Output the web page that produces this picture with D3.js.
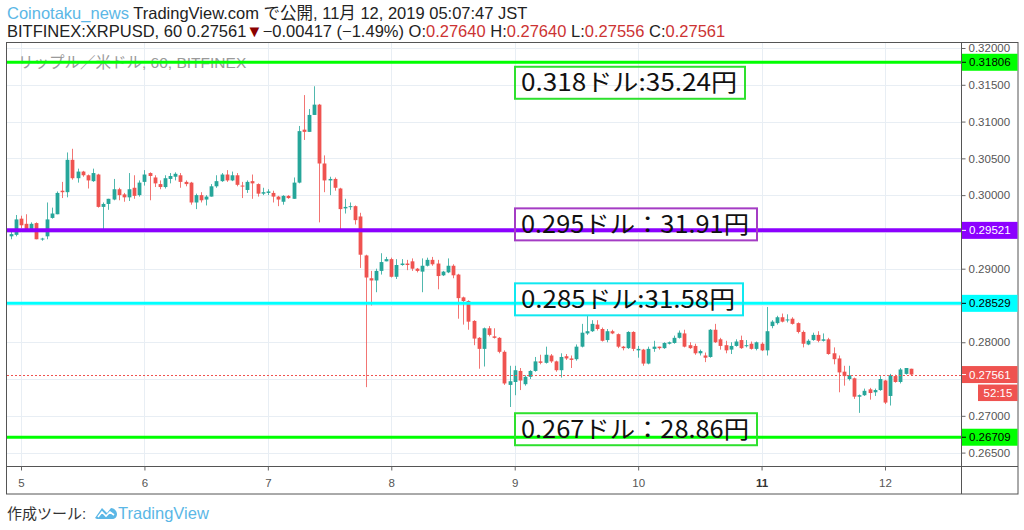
<!DOCTYPE html>
<html lang="ja">
<head>
<meta charset="UTF-8">
<title>BITFINEX:XRPUSD, 60</title>
<script src="https://d3js.org/d3.v7.min.js"></script>
<style>
  body { margin: 0; background: #fff; }
  svg { font-family: Arial, "Liberation Sans", "Noto Sans CJK JP", sans-serif; }
  .axis text { fill: #555; font-size: 11.5px; }
  .axis line { stroke: #666; }
  .axis path { display: none; }
</style>
</head>
<body>
<svg id="chart" width="1024" height="530"></svg>
<script>
// hourly candles, first one at 2019-11-04 22:00
const firstBar = Date.UTC(2019, 10, 4, 22);

const opens = [
  0.2944, 0.2946, 0.2968, 0.2961, 0.2954, 0.2962, 0.2940, 0.2944, 0.2969, 0.2974,
  0.3006, 0.3004, 0.3048, 0.3023, 0.3032, 0.3027, 0.3019, 0.3028, 0.2984, 0.2988,
  0.2994, 0.3008, 0.3001, 0.2997, 0.3010, 0.3000, 0.3018, 0.3030, 0.3024, 0.3015,
  0.3011, 0.3022, 0.3025, 0.3027, 0.3018, 0.3017, 0.2990, 0.3000, 0.2994, 0.2998,
  0.3012, 0.3019, 0.3028, 0.3020, 0.3027, 0.3013, 0.3007, 0.3019, 0.3015, 0.3002,
  0.3003, 0.3003, 0.2998, 0.2991, 0.2999, 0.2995, 0.3017, 0.3089, 0.3086, 0.3109,
  0.3123, 0.3043, 0.3020, 0.3022, 0.3009, 0.2982, 0.2984, 0.2985, 0.2971, 0.2918,
  0.2887, 0.2884, 0.2897, 0.2910, 0.2913, 0.2889, 0.2905, 0.2907, 0.2910, 0.2900,
  0.2896, 0.2904, 0.2912, 0.2907, 0.2891, 0.2895, 0.2904, 0.2892, 0.2861, 0.2856,
  0.2829, 0.2806, 0.2791, 0.2819, 0.2808, 0.2806, 0.2787, 0.2742, 0.2746, 0.2761,
  0.2743, 0.2753, 0.2761, 0.2774, 0.2772, 0.2782, 0.2774, 0.2762, 0.2781, 0.2778,
  0.2777, 0.2794, 0.2812, 0.2815, 0.2824, 0.2818, 0.2803, 0.2815, 0.2811, 0.2794,
  0.2792, 0.2814, 0.2789, 0.2790, 0.2771, 0.2791, 0.2794, 0.2792, 0.2798, 0.2799,
  0.2806, 0.2812, 0.2796, 0.2795, 0.2785, 0.2782, 0.2780, 0.2817, 0.2804, 0.2796,
  0.2790, 0.2795, 0.2803, 0.2795, 0.2798, 0.2791, 0.2798, 0.2789, 0.2822, 0.2826,
  0.2834, 0.2830, 0.2832, 0.2826, 0.2814, 0.2797, 0.2803, 0.2810, 0.2802, 0.2804,
  0.2785, 0.2778, 0.2760, 0.2750, 0.2751, 0.2726, 0.2728, 0.2736, 0.2732, 0.2735,
  0.2748, 0.2727, 0.2754, 0.2746, 0.2757, 0.27640
];
const highs = [
  0.2951, 0.2973, 0.2972, 0.2974, 0.2963, 0.2963, 0.2942, 0.2990, 0.2983, 0.3005,
  0.3018, 0.3058, 0.3063, 0.3036, 0.3033, 0.3028, 0.3036, 0.3029, 0.2990, 0.2995,
  0.3022, 0.3010, 0.3003, 0.3030, 0.3027, 0.3020, 0.3034, 0.3031, 0.3027, 0.3020,
  0.3027, 0.3030, 0.3031, 0.3030, 0.3020, 0.3018, 0.3002, 0.3004, 0.3000, 0.3015,
  0.3027, 0.3030, 0.3034, 0.3032, 0.3030, 0.3018, 0.3020, 0.3028, 0.3016, 0.3010,
  0.3008, 0.3006, 0.2999, 0.3000, 0.3000, 0.3024, 0.3094, 0.3136, 0.3117, 0.3148,
  0.3124, 0.3054, 0.3025, 0.3024, 0.3010, 0.2995, 0.2990, 0.2986, 0.2976, 0.2919,
  0.2897, 0.2900, 0.2921, 0.2916, 0.2915, 0.2913, 0.2913, 0.2912, 0.2914, 0.2901,
  0.2914, 0.2915, 0.2916, 0.2912, 0.2897, 0.2914, 0.2906, 0.2893, 0.2862, 0.2857,
  0.2830, 0.2807, 0.2820, 0.2822, 0.2819, 0.2807, 0.2789, 0.2768, 0.2768, 0.2765,
  0.2755, 0.2762, 0.2780, 0.2783, 0.2794, 0.2784, 0.2775, 0.2785, 0.2784, 0.2782,
  0.2797, 0.2825, 0.2836, 0.2830, 0.2830, 0.2820, 0.2818, 0.2817, 0.2812, 0.2795,
  0.2815, 0.2815, 0.2795, 0.2791, 0.2794, 0.2802, 0.2794, 0.2800, 0.2801, 0.2809,
  0.2816, 0.2817, 0.2800, 0.2798, 0.2790, 0.2786, 0.2818, 0.2825, 0.2806, 0.2802,
  0.2800, 0.2804, 0.2809, 0.2803, 0.2801, 0.2801, 0.2800, 0.2848, 0.2830, 0.2836,
  0.2839, 0.2838, 0.2834, 0.2827, 0.2816, 0.2804, 0.2813, 0.2815, 0.2812, 0.2806,
  0.2793, 0.2782, 0.2768, 0.2768, 0.2752, 0.2729, 0.2737, 0.2738, 0.2737, 0.2754,
  0.2749, 0.2757, 0.2756, 0.2765, 0.2765, 0.27640
];
const lows = [
  0.2940, 0.2944, 0.2955, 0.2950, 0.2950, 0.2940, 0.2938, 0.2940, 0.2968, 0.2974,
  0.2996, 0.2997, 0.3021, 0.3017, 0.3025, 0.3009, 0.3018, 0.2983, 0.2953, 0.2980,
  0.2993, 0.2993, 0.2991, 0.2992, 0.2995, 0.2998, 0.3013, 0.2993, 0.3011, 0.3008,
  0.3009, 0.3016, 0.3020, 0.3010, 0.3012, 0.2987, 0.2981, 0.2990, 0.2986, 0.2998,
  0.3010, 0.3018, 0.3018, 0.3019, 0.3012, 0.2996, 0.3003, 0.2995, 0.2998, 0.3000,
  0.3000, 0.2990, 0.2985, 0.2987, 0.2995, 0.2995, 0.3016, 0.3075, 0.3086, 0.3109,
  0.2963, 0.3004, 0.3000, 0.3006, 0.2953, 0.2975, 0.2980, 0.2960, 0.2901, 0.2739,
  0.2850, 0.2868, 0.2892, 0.2910, 0.2888, 0.2886, 0.2904, 0.2898, 0.2897, 0.2895,
  0.2868, 0.2903, 0.2904, 0.2872, 0.2890, 0.2894, 0.2887, 0.2832, 0.2824, 0.2817,
  0.2796, 0.2764, 0.2767, 0.2808, 0.2805, 0.2785, 0.2742, 0.2712, 0.2728, 0.2735,
  0.2741, 0.2750, 0.2760, 0.2770, 0.2771, 0.2772, 0.2760, 0.2752, 0.2776, 0.2765,
  0.2775, 0.2793, 0.2810, 0.2814, 0.2816, 0.2801, 0.2800, 0.2811, 0.2792, 0.2789,
  0.2791, 0.2788, 0.2779, 0.2768, 0.2770, 0.2787, 0.2790, 0.2791, 0.2797, 0.2798,
  0.2805, 0.2793, 0.2791, 0.2783, 0.2782, 0.2773, 0.2779, 0.2799, 0.2790, 0.2785,
  0.2784, 0.2794, 0.2791, 0.2793, 0.2790, 0.2789, 0.2788, 0.2782, 0.2819, 0.2824,
  0.2827, 0.2827, 0.2824, 0.2812, 0.2793, 0.2796, 0.2802, 0.2800, 0.2801, 0.2783,
  0.2770, 0.2732, 0.2741, 0.2748, 0.2723, 0.2704, 0.2727, 0.2722, 0.2727, 0.2734,
  0.2716, 0.2714, 0.2745, 0.2744, 0.2756, 0.27556
];
const closes = [
  0.2947, 0.2967, 0.2959, 0.2953, 0.2961, 0.2940, 0.2941, 0.2967, 0.2975, 0.3003,
  0.3004, 0.3048, 0.3023, 0.3032, 0.3027, 0.3020, 0.3030, 0.2984, 0.2988, 0.2995,
  0.3008, 0.3000, 0.2997, 0.3008, 0.2999, 0.3017, 0.3028, 0.3026, 0.3016, 0.3011,
  0.3023, 0.3026, 0.3029, 0.3018, 0.3015, 0.2990, 0.3000, 0.2993, 0.2998, 0.3012,
  0.3019, 0.3028, 0.3020, 0.3027, 0.3014, 0.3012, 0.3018, 0.3016, 0.3002, 0.3004,
  0.3005, 0.2998, 0.2994, 0.2999, 0.2996, 0.3017, 0.3087, 0.3086, 0.3109, 0.3123,
  0.3043, 0.3020, 0.3022, 0.3010, 0.2981, 0.2984, 0.2985, 0.2966, 0.2919, 0.2888,
  0.2884, 0.2897, 0.2909, 0.2913, 0.2889, 0.2905, 0.2907, 0.2905, 0.2900, 0.2897,
  0.2904, 0.2912, 0.2906, 0.2890, 0.2896, 0.2904, 0.2891, 0.2860, 0.2856, 0.2828,
  0.2805, 0.2791, 0.2819, 0.2810, 0.2806, 0.2787, 0.2744, 0.2747, 0.2762, 0.2748,
  0.2753, 0.2761, 0.2774, 0.2772, 0.2783, 0.2774, 0.2762, 0.2780, 0.2778, 0.2776,
  0.2794, 0.2813, 0.2815, 0.2825, 0.2818, 0.2802, 0.2815, 0.2812, 0.2794, 0.2792,
  0.2814, 0.2791, 0.2791, 0.2771, 0.2791, 0.2794, 0.2792, 0.2799, 0.2800, 0.2806,
  0.2813, 0.2794, 0.2792, 0.2785, 0.2788, 0.2779, 0.2817, 0.2800, 0.2795, 0.2789,
  0.2795, 0.2801, 0.2792, 0.2796, 0.2791, 0.2800, 0.2789, 0.2815, 0.2828, 0.2834,
  0.2828, 0.2831, 0.2825, 0.2814, 0.2798, 0.2802, 0.2810, 0.2802, 0.2804, 0.2784,
  0.2777, 0.2759, 0.2754, 0.2755, 0.2726, 0.2728, 0.2734, 0.2731, 0.2735, 0.2750,
  0.2718, 0.2755, 0.2746, 0.2763, 0.2765, 0.27561
];

// horizontal levels drawn on the chart
const levelPrices = [0.31806, 0.29521, 0.28529, 0.26709];
const levelNotes = ["0.318ドル:35.24円", "0.295ドル：31.91円", "0.285ドル:31.58円", "0.267ドル：28.86円"];
const levelColors = ["#00ff00", "#8c00ff", "#00ffff", "#00ff00"];
const levelBorders = ["#2ee02e", "#a43cc4", "#10e8f0", "#2ee02e"];
const levelTextColors = ["#000", "#fff", "#000", "#000"];

const lastPrice = 0.27561;
const countdown = "52:15";
const dayTicks = [5, 6, 7, 8, 9, 10, 11, 12];
const priceTicks = [0.265, 0.27, 0.275, 0.28, 0.285, 0.29, 0.295, 0.30, 0.305, 0.31, 0.315, 0.32];

const headerLine1 = "TradingView.com で公開, 11月 12, 2019 05:07:47 JST";
const headerLine2 = "BITFINEX:XRPUSD, 60 0.27561";
const headerChange = "−0.00417 (−1.49%)";
const ohlcLabels = ["O:", "H:", "L:", "C:"];
const ohlcValues = ["0.27640", "0.27640", "0.27556", "0.27561"];

const bars = closes.map((c, i) => ({
  t: new Date(firstBar + i * 3600 * 1000),
  o: opens[i], h: highs[i], l: lows[i], c: c
}));

const plot = { left: 7, right: 961, top: 43, bottom: 466 };
const frameRight = 1018, frameBottom = 494;

const svg = d3.select("#chart");

const x = d3.scaleUtc()
  .domain([new Date(Date.UTC(2019, 10, 5)), new Date(Date.UTC(2019, 10, 12))])
  .range([21, 885]);
const y = d3.scaleLinear().domain([0.265, 0.32]).range([452.6, 48]);

const dayDates = dayTicks.map(d => new Date(Date.UTC(2019, 10, d)));

svg.append("clipPath").attr("id", "plotClip")
  .append("rect")
  .attr("x", plot.left).attr("y", plot.top)
  .attr("width", plot.right - plot.left).attr("height", plot.bottom - plot.top);

// grid
const grid = svg.append("g").attr("clip-path", "url(#plotClip)");
grid.selectAll(".hg").data(priceTicks).enter().append("line")
  .attr("x1", plot.left).attr("x2", plot.right)
  .attr("y1", d => Math.round(y(d)) + 0.5).attr("y2", d => Math.round(y(d)) + 0.5)
  .attr("stroke", "#e8eef4");
grid.selectAll(".vg").data(dayDates).enter().append("line")
  .attr("y1", plot.top).attr("y2", plot.bottom)
  .attr("x1", d => Math.round(x(d)) + 0.5).attr("x2", d => Math.round(x(d)) + 0.5)
  .attr("stroke", "#e8eef4");

// watermark
svg.append("text")
  .attr("x", 18).attr("y", 68)
  .attr("fill", "#9a9a9a")
  .style("font-size", "15.5px")
  .text("リップル／米ドル, 60, BITFINEX");

// candles
const up = "#26a69a", down = "#ef5350";
const candles = svg.append("g").attr("clip-path", "url(#plotClip)");
const bw = 3.8;
const cg = candles.selectAll("g").data(bars).enter().append("g");
cg.append("line")
  .attr("x1", d => Math.round(x(d.t)) + 0.5).attr("x2", d => Math.round(x(d.t)) + 0.5)
  .attr("y1", d => y(d.h)).attr("y2", d => y(d.l))
  .attr("stroke", d => d.c >= d.o ? up : down)
  .attr("stroke-opacity", 0.8)
  .attr("stroke-width", 1);
cg.append("rect")
  .attr("x", d => Math.round(x(d.t)) + 0.5 - bw / 2)
  .attr("width", bw)
  .attr("y", d => y(Math.max(d.o, d.c)))
  .attr("height", d => Math.max(1, Math.abs(y(d.o) - y(d.c))))
  .attr("fill", d => d.c >= d.o ? up : down);

// last price dotted line
svg.append("line")
  .attr("x1", plot.left).attr("x2", plot.right)
  .attr("y1", Math.round(y(lastPrice)) + 0.5).attr("y2", Math.round(y(lastPrice)) + 0.5)
  .attr("stroke", down).attr("stroke-dasharray", "2,2");

// level lines
svg.append("g").selectAll("line").data(levelPrices).enter().append("line")
  .attr("x1", plot.left).attr("x2", plot.right)
  .attr("y1", d => y(d)).attr("y2", d => y(d))
  .attr("stroke", (d, i) => levelColors[i])
  .attr("stroke-width", (d, i) => i === 1 ? 4 : 3);

// note boxes
const boxTop = [4.5, -22, -20, -24];
const boxW = [230, 242, 228, 242];
const notes = svg.append("g");
levelPrices.forEach((p, i) => {
  const top = y(p) + boxTop[i];
  notes.append("rect")
    .attr("x", 515).attr("y", top)
    .attr("width", boxW[i]).attr("height", 32)
    .attr("fill", "none")
    .attr("stroke", levelBorders[i]).attr("stroke-width", 2);
  notes.append("text")
    .attr("x", 521).attr("y", top + 24.5)
    .attr("fill", "#111")
    .style("font-family", "'Noto Sans CJK JP', sans-serif")
    .style("font-size", "24px")
    .attr("textLength", boxW[i] - 14)
    .attr("lengthAdjust", "spacingAndGlyphs")
    .text(levelNotes[i]);
});

// frame and separators
svg.append("rect")
  .attr("x", 6.5).attr("y", 42.5)
  .attr("width", frameRight - 6.5).attr("height", frameBottom - 42.5)
  .attr("fill", "none").attr("stroke", "#555");
svg.append("line").attr("x1", plot.right + 0.5).attr("x2", plot.right + 0.5)
  .attr("y1", 42.5).attr("y2", frameBottom).attr("stroke", "#555");
svg.append("line").attr("x1", 6.5).attr("x2", frameRight)
  .attr("y1", plot.bottom + 0.5).attr("y2", plot.bottom + 0.5).attr("stroke", "#555");

// price axis
const boxed = levelPrices.concat([lastPrice]);
const yAxis = svg.append("g").attr("class", "axis")
  .attr("transform", `translate(${plot.right + 0.5},0)`)
  .call(d3.axisRight(y).tickValues(priceTicks).tickFormat(d3.format(".5f")).tickSize(4).tickPadding(3));
yAxis.selectAll(".tick")
  .filter(d => boxed.some(b => Math.abs(y(b) - y(d)) < 12))
  .select("text").remove();

const tags = svg.append("g");
boxed.forEach((p, i) => {
  const bg = i < levelPrices.length ? levelColors[i] : down;
  const fg = i < levelPrices.length ? levelTextColors[i] : "#fff";
  tags.append("rect")
    .attr("x", plot.right + 1).attr("y", y(p) - 8.5)
    .attr("width", frameRight - plot.right - 1.5).attr("height", 17)
    .attr("fill", bg);
  tags.append("line")
    .attr("x1", plot.right + 1).attr("x2", plot.right + 5)
    .attr("y1", y(p)).attr("y2", y(p))
    .attr("stroke", fg);
  tags.append("text")
    .attr("x", plot.right + 8).attr("y", y(p) + 4)
    .attr("fill", fg).style("font-size", "11.5px")
    .text(d3.format(".5f")(p));
});
tags.append("rect")
  .attr("x", 978).attr("y", y(lastPrice) + 10)
  .attr("width", frameRight - 978.5).attr("height", 16.5)
  .attr("fill", down);
tags.append("text")
  .attr("x", (978 + frameRight) / 2).attr("y", y(lastPrice) + 22.5)
  .attr("text-anchor", "middle")
  .attr("fill", "#fff").style("font-size", "11.5px")
  .text(countdown);

// time axis
const xAxis = svg.append("g").attr("class", "axis")
  .attr("transform", `translate(0,${plot.bottom + 0.5})`)
  .call(d3.axisBottom(x).tickValues(dayDates).tickFormat(d3.utcFormat("%-d")).tickSize(4).tickPadding(8));
xAxis.selectAll(".tick text")
  .filter(d => d.getUTCDate() === 11)
  .style("font-weight", "bold").style("fill", "#333");

// header
const h1 = svg.append("text").attr("x", 7).attr("y", 19).style("font-size", "16.5px");
h1.append("tspan").attr("fill", "#5bb7e6").text("Coinotaku_news ");
h1.append("tspan").attr("fill", "#222").text(headerLine1);

const h2 = svg.append("text").attr("x", 7).attr("y", 37).style("font-size", "16.5px").attr("fill", "#222");
h2.append("tspan").text(headerLine2);
h2.append("tspan").attr("fill", "#8b0000").text("▼");
h2.append("tspan").text(headerChange);
ohlcLabels.forEach((lab, i) => {
  h2.append("tspan").text(" " + lab);
  h2.append("tspan").attr("fill", "#cc3333").text(ohlcValues[i]);
});

// footer
svg.append("text").attr("x", 7).attr("y", 519)
  .attr("fill", "#333").style("font-size", "15px")
  .text("作成ツール:");
const logo = svg.append("g").attr("transform", "translate(95,505)").attr("fill", "#5bb7e6");
logo.append("path")
  .attr("d", "M0,13 L7,3 L12,8 L16,3 C19,3 22,6 22,9 C22,12 20,14 17,14 L2,14 Z");
logo.append("path")
  .attr("d", "M3,12 L7,7 L11,11 L15,7 L19,10")
  .attr("fill", "none").attr("stroke", "#fff").attr("stroke-width", 1.6);
svg.append("text").attr("x", 118).attr("y", 519)
  .attr("fill", "#5bb7e6").style("font-size", "16.5px")
  .text("TradingView");
</script>
</body>
</html>
